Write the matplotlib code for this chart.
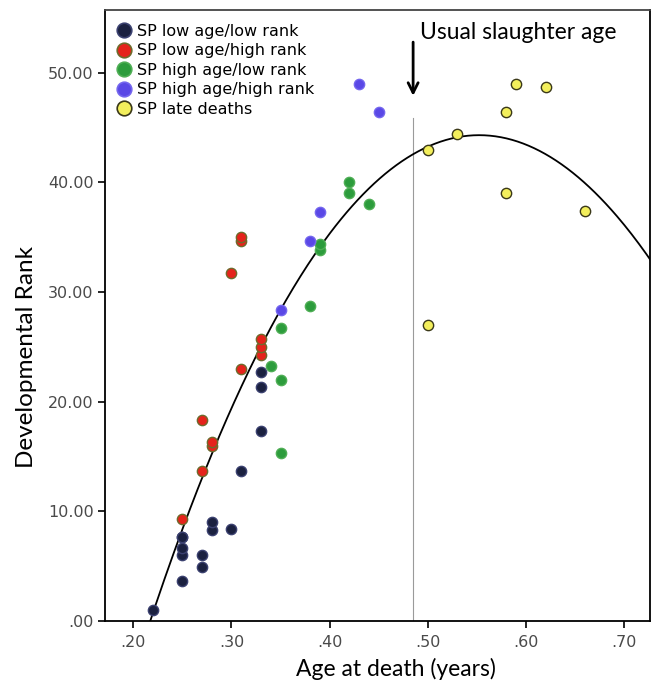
import numpy as np
import matplotlib
matplotlib.use('Agg')
import matplotlib.pyplot as plt
from matplotlib.lines import Line2D

# age at death (years) and developmental rank for each group
low_low_age = [0.22, 0.25, 0.25, 0.25, 0.25, 0.25, 0.27, 0.27, 0.28, 0.28, 0.30, 0.31, 0.33, 0.33, 0.33]
low_low_rank = [1.0, 3.65, 6.0, 6.7, 7.66, 7.66, 4.96, 6.0, 8.3, 9.06, 8.36, 13.65, 17.3, 21.35, 22.7]

low_high_age = [0.25, 0.27, 0.27, 0.28, 0.28, 0.30, 0.31, 0.31, 0.31, 0.33, 0.33, 0.33]
low_high_rank = [9.33, 13.65, 18.3, 16.0, 16.3, 31.7, 23.0, 34.7, 35.0, 24.3, 25.0, 25.7]

high_low_age = [0.34, 0.35, 0.35, 0.35, 0.38, 0.39, 0.39, 0.42, 0.42, 0.44]
high_low_rank = [23.3, 15.3, 22.0, 26.7, 28.7, 33.8, 34.4, 39.0, 40.0, 38.0]

high_high_age = [0.35, 0.38, 0.39, 0.43, 0.45]
high_high_rank = [28.4, 34.7, 37.35, 49.0, 46.4]

late_age = [0.50, 0.50, 0.53, 0.58, 0.58, 0.59, 0.62, 0.66]
late_rank = [27.0, 43.0, 44.4, 39.05, 46.4, 49.0, 48.7, 37.4]

# points along the fitted trend line
fit_x = [0.219, 0.278, 0.37, 0.4004, 0.4988, 0.548, 0.648, 0.692, 0.726]
fit_y = [0.0, 15.8, 31.0, 35.1, 43.1, 44.55, 41.1, 36.8, 33.0]

slaughter_age = 0.485

groups = [
    ('SP low age/low rank', low_low_age, low_low_rank, '#1b2140', '#3b4170'),
    ('SP low age/high rank', low_high_age, low_high_rank, '#e5231b', '#6e6a2c'),
    ('SP high age/low rank', high_low_age, high_low_rank, '#2c9c3c', '#4fae55'),
    ('SP high age/high rank', high_high_age, high_high_rank, '#5a48e6', '#7466ee'),
    ('SP late deaths', late_age, late_rank, '#f3ef5c', '#3a3818'),
]

fig = plt.figure(figsize=(6.55, 6.87), dpi=100)
ax = fig.add_axes([0.160, 0.096, 0.832, 0.889])

ax.plot([slaughter_age, slaughter_age], [0, 45.9], color='#9a9a9a', lw=0.8, zorder=1)

coef = np.polyfit(fit_x, fit_y, 3)
xs = np.linspace(0.17, 0.73, 300)
ax.plot(xs, np.polyval(coef, xs), color='black', lw=1.3, zorder=2)

handles = []
for label, xv, yv, face, edge in groups:
    ax.scatter(xv, yv, s=55, c=face, edgecolors=edge, linewidths=1.0, zorder=3)
    handles.append(Line2D([], [], marker='o', ls='none', markersize=10.5,
                          markerfacecolor=face, markeredgecolor=edge,
                          markeredgewidth=1.2, label=label))

ax.legend(handles=handles, loc='upper left', bbox_to_anchor=(0.011, 0.978),
          frameon=False, fontsize=11.5, handletextpad=0.05, labelspacing=0.28,
          borderaxespad=0.0, handlelength=1.6, borderpad=0.0)

ax.annotate('', xy=(slaughter_age, 47.9), xytext=(slaughter_age, 52.8),
            arrowprops=dict(arrowstyle='->', color='black', lw=2,
                            mutation_scale=18, shrinkA=0, shrinkB=0))
ax.text(0.492, 53.1, 'Usual slaughter age', fontsize=16.5, family='Lato',
        ha='left', va='baseline')

ax.set_xlim(0.171, 0.726)
ax.set_ylim(0, 55.7)
ax.set_xticks([0.2, 0.3, 0.4, 0.5, 0.6, 0.7])
ax.set_xticklabels(['.20', '.30', '.40', '.50', '.60', '.70'])
ax.set_yticks([0, 10, 20, 30, 40, 50])
ax.set_yticklabels(['.00', '10.00', '20.00', '30.00', '40.00', '50.00'])
ax.tick_params(direction='out', length=5, width=1.2, labelsize=11.5,
               labelcolor='#4a4a4a', pad=3)
ax.tick_params(axis='x', pad=5)

for s in ax.spines.values():
    s.set_linewidth(1.3)
ax.spines['top'].set_color('#444444')

ax.set_xlabel('Age at death (years)', fontsize=16.5, family='Lato')
ax.set_ylabel('Developmental Rank', fontsize=17.5, family='Lato')
ax.xaxis.set_label_coords(0.535, -0.06)
ax.yaxis.set_label_coords(-0.125, 0.433)

fig.savefig('out.png', dpi=100)
